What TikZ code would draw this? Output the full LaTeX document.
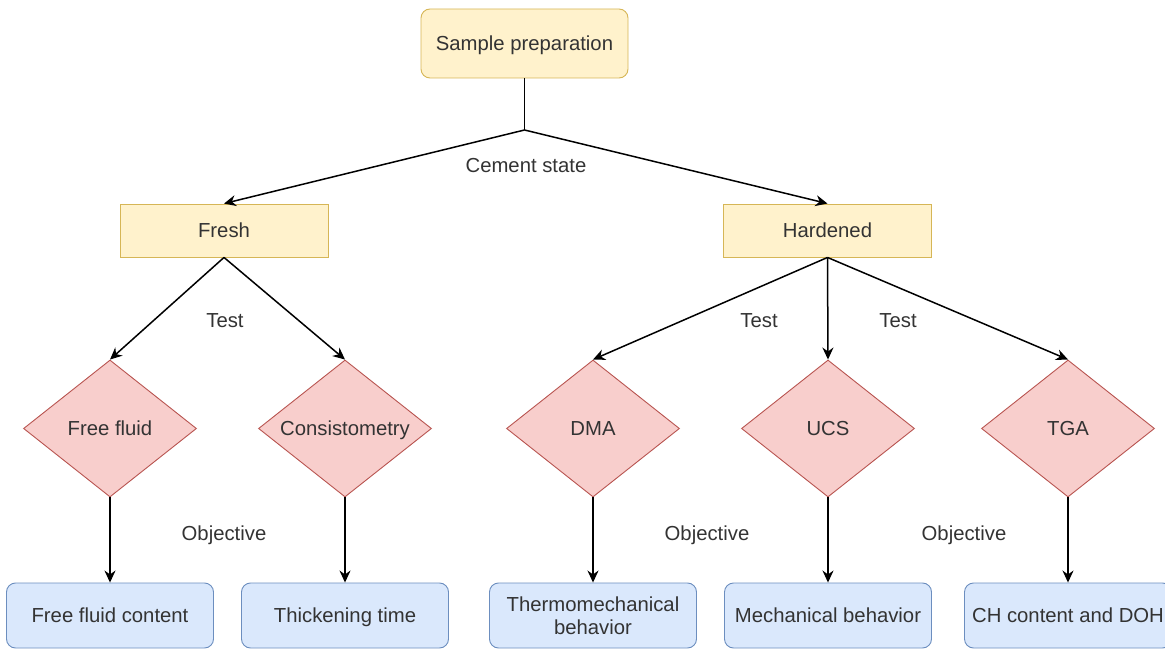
\documentclass[tikz,border=0pt]{standalone}
\usepackage{fontspec}
\setmainfont{Liberation Sans}
\usetikzlibrary{shapes.geometric, arrows.meta}

\definecolor{prepfill}{HTML}{FFF2CC}
\definecolor{prepline}{HTML}{D6B656}
\definecolor{testfill}{HTML}{F8CECC}
\definecolor{testline}{HTML}{B85450}
\definecolor{goalfill}{HTML}{DAE8FC}
\definecolor{goalline}{HTML}{6C8EBF}
\definecolor{txt}{HTML}{333333}

\begin{document}
\begin{tikzpicture}[x=1pt,y=-1pt,
  every node/.style={font=\fontsize{20.3}{23}\selectfont, text=txt},
  capline/.style={text height=14.5pt, text depth=0pt},
  statebox/.style={capline, draw=prepline, fill=prepfill, line width=0.9pt, minimum width=208pt, minimum height=53pt, inner sep=0pt},
  testbox/.style={capline, diamond, draw=testline, fill=testfill, line width=0.9pt, minimum width=173pt, minimum height=137pt, inner sep=0pt},
  goalbox/.style={draw=goalline, fill=goalfill, line width=0.9pt, rounded corners=9pt, minimum width=207pt, minimum height=65pt, inner sep=0pt, align=center},
  link/.style={line width=1.5pt, -{Stealth[length=12pt,width=11pt]}},
  edgelbl/.style={capline, inner sep=0pt}]
\useasboundingbox (0,0) rectangle (1165,655);
% top
\node[statebox, rounded corners=9pt, minimum width=207pt, minimum height=69pt] (prep) at (524.5,43.5) {Sample preparation};
\coordinate (split) at (524.5,130);
\node[statebox] (fresh) at (224,230.5) {Fresh};
\node[statebox] (hard) at (827.5,230.5) {Hardened};
% tests
\node[testbox] (ff) at (110,428.5) {\makebox[0pt]{Free fluid}};
\node[testbox] (cons) at (345,428.5) {\makebox[0pt]{Consistometry}};
\node[testbox] (dma) at (593,428.5) {\makebox[0pt]{DMA}};
\node[testbox] (ucs) at (828,428.5) {\makebox[0pt]{UCS}};
\node[testbox] (tga) at (1068,428.5) {\makebox[0pt]{TGA}};
% objectives
\node[goalbox, capline] (ffc) at (110,615.5) {Free fluid content};
\node[goalbox, capline] (thick) at (345,615.5) {Thickening time};
\node[goalbox] (thermo) at (593,615.5) {Thermomechanical\\behavior};
\node[goalbox, capline] (mech) at (828,615.5) {Mechanical behavior};
\node[goalbox, capline] (ch) at (1068,615.5) {CH content and DOH};
% labels
\node[edgelbl] (lstate) at (526,165) {Cement state};
\node[edgelbl] (ltest1) at (225,320) {Test};
\node[edgelbl] (ltest2) at (759,320) {Test};
\node[edgelbl] (ltest3) at (898,320) {Test};
\node[edgelbl] (lobj1) at (224,533) {Objective};
\node[edgelbl] (lobj2) at (707,533) {Objective};
\node[edgelbl] (lobj3) at (964,533) {Objective};
% connectors
\draw[line width=1.5pt] (prep.south) -- (split);
\draw[link] (split) -- (fresh.north);
\draw[link] (split) -- (hard.north);
\draw[link] (fresh.south) -- (ff.north);
\draw[link] (fresh.south) -- (cons.north);
\draw[link] (hard.south) -- (dma.north);
\draw[link] (hard.south) -- (ucs.north);
\draw[link] (hard.south) -- (tga.north);
\draw[link] (ff.south) -- (ffc.north);
\draw[link] (cons.south) -- (thick.north);
\draw[link] (dma.south) -- (thermo.north);
\draw[link] (ucs.south) -- (mech.north);
\draw[link] (tga.south) -- (ch.north);
\end{tikzpicture}
\end{document}
